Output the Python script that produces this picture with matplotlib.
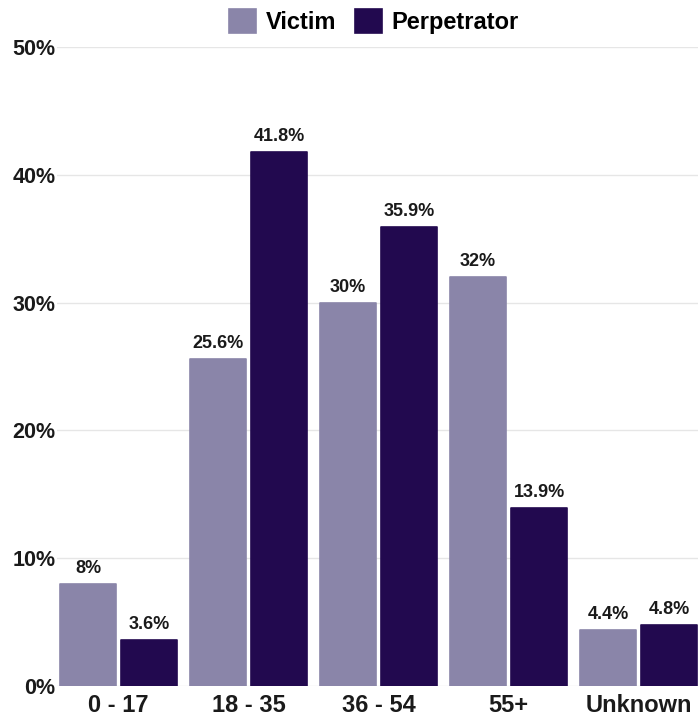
import matplotlib
matplotlib.use("Agg")
import matplotlib.pyplot as plt
import numpy as np

categories = ["0 - 17", "18 - 35", "36 - 54", "55+", "Unknown"]
victim = [8.0, 25.6, 30.0, 32.0, 4.4]
perpetrator = [3.6, 41.8, 35.9, 13.9, 4.8]
victim_labels = ["8%", "25.6%", "30%", "32%", "4.4%"]
perpetrator_labels = ["3.6%", "41.8%", "35.9%", "13.9%", "4.8%"]
yticks = [0, 10, 20, 30, 40, 50]

VICTIM_COLOR = "#8a85a9"
PERP_COLOR = "#22094f"
TEXT_COLOR = "#1a1a1a"

plt.rcParams["font.family"] = ["Liberation Sans", "DejaVu Sans"]
plt.rcParams["font.weight"] = "bold"

fig = plt.figure(figsize=(6.98, 7.23), dpi=100)
ax = fig.add_axes([0.0817, 0.0512, 0.9183, 0.884])

x = np.arange(len(categories))
width = 0.435
offset = 0.235

# thin edge in the fill colour with round joins gives the slightly soft corners
b1 = ax.bar(x - offset, victim, width, color=VICTIM_COLOR, edgecolor=VICTIM_COLOR,
            linewidth=1.2, joinstyle="round", label="Victim", zorder=3)
b2 = ax.bar(x + offset, perpetrator, width, color=PERP_COLOR, edgecolor=PERP_COLOR,
            linewidth=1.2, joinstyle="round", label="Perpetrator", zorder=3)

for bars, labels in ((b1, victim_labels), (b2, perpetrator_labels)):
    for bar, text in zip(bars, labels):
        ax.annotate(text, (bar.get_x() + bar.get_width() / 2, bar.get_height()),
                    xytext=(0, 5), textcoords="offset points", ha="center", va="bottom",
                    fontsize=13, fontweight="bold", color=TEXT_COLOR)

ax.set_xlim(-0.473, 4.458)
ax.set_ylim(0, 50)
ax.set_yticks(yticks)
ax.set_yticklabels([f"{t}%" for t in yticks], fontsize=15.5, fontweight="bold", color=TEXT_COLOR)
ax.set_xticks(x)
ax.set_xticklabels(categories, fontsize=17, fontweight="bold", color=TEXT_COLOR)
ax.tick_params(axis="both", length=0)
ax.tick_params(axis="y", pad=1)
ax.tick_params(axis="x", pad=6)
ax.grid(axis="y", color="#e6e6e6", linewidth=1, zorder=0)
for spine in ax.spines.values():
    spine.set_visible(False)

fig.legend(handles=[b1, b2], loc="center", bbox_to_anchor=(0.536, 0.970), ncol=2,
           frameon=False, prop={"weight": "bold", "size": 17},
           handlelength=1.15, handleheight=1.15, handletextpad=0.4, columnspacing=0.8)

fig.savefig("out.png", dpi=100)
